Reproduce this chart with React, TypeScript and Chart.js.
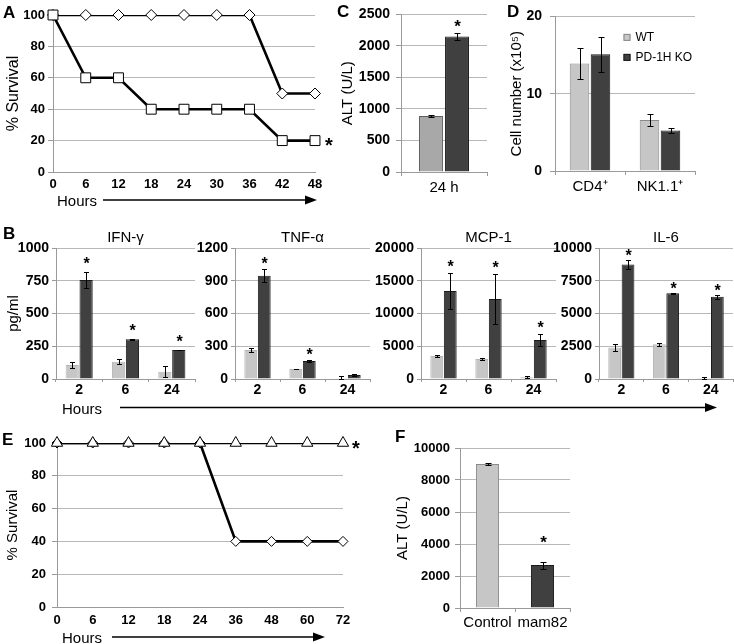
import React, { useEffect, useRef } from "react";
import { Chart, registerables } from "chart.js";
Chart.register(...registerables);

const FONT = "'Liberation Sans', Arial, Helvetica, sans-serif";
const GRID = "#b8b8b8";
const AXIS = "#9a9a9a";
const DARK = "#404040";
const DARK_EDGE = "#1a1a1a";
const LIGHT = "#c6c6c6";
const LIGHT_EDGE = "#8a8a8a";

// ---------- Panel A: survival ----------
const hoursA = [0, 6, 12, 18, 24, 30, 36, 42, 48];
const survivalA_square = [100, 60, 60, 40, 40, 40, 40, 20, 20];
const survivalA_diamond = [100, 100, 100, 100, 100, 100, 100, 50, 50];

// ---------- Panel C: ALT ----------
const cCategories = ["24 h"];
const cWT = [890];
const cWTErr = [15];
const cKO = [2150];
const cKOErr = [50];

// ---------- Panel D: cell numbers ----------
const dCategories = ["CD4⁺", "NK1.1⁺"];
const dWT = [13.9, 6.6];
const dWTErr = [1.95, 0.75];
const dKO = [15.1, 5.25];
const dKOErr = [2.25, 0.3];

// ---------- Panel B: cytokines ----------
const bHours = ["2", "6", "24"];
const ifnWT = [107, 132, 56];
const ifnWTErr = [25, 20, 43];
const ifnKO = [756, 303, 221];
const ifnKOErr = [58, 5, 3];
const tnfWT = [265, 92, 8];
const tnfWTErr = [22, 3, 15];
const tnfKO = [946, 165, 37];
const tnfKOErr = [60, 10, 5];
const mcpWT = [3500, 3050, 250];
const mcpWTErr = [150, 100, 150];
const mcpKO = [13450, 12200, 5950];
const mcpKOErr = [2700, 3850, 950];
const il6WT = [2400, 2650, 80];
const il6WTErr = [300, 100, 50];
const il6KO = [8750, 6550, 6280];
const il6KOErr = [350, 30, 150];

// ---------- Panel E: survival ----------
const hoursE = ["0", "6", "12", "18", "24", "36", "48", "60", "72"];
const survivalE_triangle = [100, 100, 100, 100, 100, 100, 100, 100, 100];
const survivalE_diamond = [100, 100, 100, 100, 100, 40, 40, 40, 40];

// ---------- Panel F: ALT ----------
const fCategories = ["Control", "mam82"];
const fValues = [9000, 2680];
const fErr = [50, 220];

type Box = { left: number; top: number; width: number; height: number };

interface Extra {
  errors?: (number[] | null)[];
  stars?: (boolean[] | null)[];
  starOffset?: number;
  starSize?: number;
  cap?: number;
  title?: string;
  titleGap?: number;
  titleSize?: number;
  lineStar?: { dataset: number; dx: number; size: number };
  legend?: { dx: number; dy: number; gap: number; size: number; font: number; datasets: number[] };
}

function figPlugin(ex: Extra) {
  return {
    id: "fig",
    afterDatasetsDraw(chart: any) {
      const ctx = chart.ctx;
      const ca = chart.chartArea;
      ctx.save();
      const cap = ex.cap ?? 3;
      (ex.errors || []).forEach((errs, di) => {
        if (!errs) return;
        const meta = chart.getDatasetMeta(di);
        const ys = chart.scales[meta.yAxisID];
        const ds = chart.data.datasets[di];
        meta.data.forEach((el: any, i: number) => {
          const v = ds.data[i] as number;
          const e = errs[i];
          const x = Math.round(el.x) + 0.5;
          const yt = Math.round(ys.getPixelForValue(v + e)) + 0.5;
          const yb = Math.round(ys.getPixelForValue(Math.max(0, v - e))) + 0.5;
          ctx.strokeStyle = "#000";
          ctx.lineWidth = 1;
          ctx.beginPath();
          ctx.moveTo(x, yt);
          ctx.lineTo(x, yb);
          ctx.moveTo(x - cap, yt);
          ctx.lineTo(x + cap, yt);
          ctx.moveTo(x - cap, yb);
          ctx.lineTo(x + cap, yb);
          ctx.stroke();
          const st = ex.stars && ex.stars[di];
          if (st && st[i]) {
            const size = ex.starSize ?? 16;
            ctx.fillStyle = "#000";
            ctx.font = `bold ${size}px ${FONT}`;
            ctx.textAlign = "center";
            ctx.textBaseline = "alphabetic";
            const cy = yt - (ex.starOffset ?? 10);
            ctx.fillText("*", x, cy + 0.58 * size);
          }
        });
      });
      if (ex.lineStar) {
        const meta = chart.getDatasetMeta(ex.lineStar.dataset);
        const el = meta.data[meta.data.length - 1];
        const size = ex.lineStar.size;
        ctx.fillStyle = "#000";
        ctx.font = `bold ${size}px ${FONT}`;
        ctx.textAlign = "center";
        ctx.textBaseline = "alphabetic";
        ctx.fillText("*", el.x + ex.lineStar.dx, el.y + 0.58 * size);
      }
      if (ex.title) {
        const size = ex.titleSize ?? 15;
        ctx.fillStyle = "#000";
        ctx.font = `${size}px ${FONT}`;
        ctx.textAlign = "center";
        ctx.textBaseline = "middle";
        ctx.fillText(ex.title, (ca.left + ca.right) / 2, ca.top - (ex.titleGap ?? 10));
      }
      if (ex.legend) {
        const lg = ex.legend;
        lg.datasets.forEach((di, k) => {
          const ds = chart.data.datasets[di];
          const cx = ca.left + lg.dx;
          const cy = ca.top + lg.dy + k * lg.gap;
          ctx.fillStyle = ds.backgroundColor;
          ctx.fillRect(cx - lg.size / 2, cy - lg.size / 2, lg.size, lg.size);
          ctx.strokeStyle = ds.borderColor;
          ctx.lineWidth = 1;
          ctx.strokeRect(cx - lg.size / 2 + 0.5, cy - lg.size / 2 + 0.5, lg.size - 1, lg.size - 1);
          ctx.fillStyle = "#000";
          ctx.font = `${lg.font}px ${FONT}`;
          ctx.textAlign = "left";
          ctx.textBaseline = "middle";
          ctx.fillText(ds.label, cx + lg.size / 2 + 5, cy + 0.5);
        });
      }
      ctx.restore();
    },
  };
}

interface AxisOpts {
  yMax: number;
  yStep: number;
  yTickSize: number;
  yTickPad: number;
  yTickLen: number;
  yWidth: number;
  xHeight: number;
  padTop: number;
  padRight: number;
  yTitle?: string;
  yTitleSize?: number;
  yTitlePad?: number;
}

function yScale(o: AxisOpts) {
  return {
    min: 0,
    max: o.yMax,
    ticks: {
      stepSize: o.yStep,
      color: "#000",
      padding: o.yTickPad,
      font: { family: FONT, size: o.yTickSize, weight: "bold" },
      callback: (v: any) => String(v),
    },
    grid: { color: GRID, tickColor: AXIS, drawTicks: true, tickLength: o.yTickLen, lineWidth: 1 },
    border: { display: true, color: AXIS, width: 1 },
    title: o.yTitle
      ? {
          display: true,
          text: o.yTitle,
          color: "#000",
          font: { family: FONT, size: o.yTitleSize ?? 15 },
          padding: { top: o.yTitlePad ?? 4, bottom: 0 },
        }
      : { display: false },
    afterFit: (s: any) => {
      s.width = o.yWidth;
    },
  };
}

function baseOptions(o: AxisOpts) {
  return {
    responsive: false,
    animation: false,
    devicePixelRatio: 1,
    events: [],
    layout: { padding: { top: o.padTop, right: o.padRight, left: 0, bottom: 0 } },
    plugins: { legend: { display: false }, tooltip: { enabled: false }, title: { display: false } },
  };
}

function barChart(
  o: AxisOpts & {
    labels: string[];
    datasets: any[];
    cp: number;
    bp: number;
    xFontSize: number;
    xBold: boolean;
    xPad: number;
    xTickLen: number;
    extra: Extra;
  }
) {
  return {
    type: "bar",
    data: {
      labels: o.labels,
      datasets: o.datasets.map((d) => ({ ...d, categoryPercentage: o.cp, barPercentage: o.bp, borderSkipped: "start" })),
    },
    options: {
      ...baseOptions(o),
      scales: {
        x: {
          ticks: {
            color: "#000",
            padding: o.xPad,
            maxRotation: 0,
            autoSkip: false,
            font: { family: FONT, size: o.xFontSize, weight: o.xBold ? "bold" : "normal" },
          },
          grid: { drawOnChartArea: false, drawTicks: true, tickLength: o.xTickLen, color: AXIS, offset: true },
          border: { display: true, color: AXIS, width: 1 },
          afterFit: (s: any) => {
            s.height = o.xHeight;
          },
        },
        y: yScale(o),
      },
    },
    plugins: [figPlugin(o.extra)],
  };
}

const pts = (xs: number[], ys: number[]) => xs.map((x, i) => ({ x, y: ys[i] }));

function markerDs(data: any, style: string, r: number) {
  return {
    data,
    showLine: false,
    pointStyle: style,
    pointRadius: r,
    pointBackgroundColor: "#fff",
    pointBorderColor: "#000",
    pointBorderWidth: 1,
    clip: false,
  };
}
function lineDs(data: any) {
  return {
    data,
    borderColor: "#000",
    borderWidth: 2.6,
    pointRadius: 0,
    tension: 0,
    clip: 0,
  };
}

function lineXTicks(size: number, pad: number) {
  return {
    color: "#000",
    padding: pad,
    maxRotation: 0,
    autoSkip: false,
    font: { family: FONT, size, weight: "bold" },
  };
}

// ---------- chart factories ----------
const makeA = () => {
  const o: AxisOpts = {
    yMax: 100, yStep: 20, yTickSize: 13, yTickPad: 3, yTickLen: 5,
    yWidth: 53, xHeight: 28, padTop: 15, padRight: 30,
    yTitle: "% Survival", yTitleSize: 16, yTitlePad: 4,
  };
  return {
    type: "line",
    data: {
      datasets: [
        markerDs(pts(hoursA, survivalA_square), "rect", 7),
        markerDs(pts(hoursA, survivalA_diamond), "rectRot", 5.5),
        lineDs(pts(hoursA, survivalA_square)),
        lineDs(pts(hoursA, survivalA_diamond)),
      ],
    },
    options: {
      ...baseOptions(o),
      scales: {
        x: {
          type: "linear",
          min: 0,
          max: 48,
          ticks: { ...lineXTicks(13, 5), stepSize: 6 },
          grid: { display: false, drawTicks: false, tickLength: 0 },
          border: { display: true, color: AXIS },
          afterFit: (s: any) => { s.height = o.xHeight; },
        },
        y: yScale(o),
      },
    },
    plugins: [figPlugin({ lineStar: { dataset: 0, dx: 14, size: 20 } })],
  };
};

const makeE = () => {
  const o: AxisOpts = {
    yMax: 100, yStep: 20, yTickSize: 13, yTickPad: 6, yTickLen: 5,
    yWidth: 57, xHeight: 25, padTop: 23, padRight: 32,
    yTitle: "% Survival", yTitleSize: 15, yTitlePad: 4,
  };
  return {
    type: "line",
    data: {
      labels: hoursE,
      datasets: [
        markerDs(survivalE_triangle, "triangle", 6.5),
        markerDs(survivalE_diamond, "rectRot", 5),
        lineDs(survivalE_triangle),
        lineDs(survivalE_diamond),
      ],
    },
    options: {
      ...baseOptions(o),
      scales: {
        x: {
          type: "category",
          offset: false,
          ticks: lineXTicks(13, 6),
          grid: { display: false, drawTicks: false, tickLength: 0 },
          border: { display: true, color: AXIS },
          afterFit: (s: any) => { s.height = o.xHeight; },
        },
        y: yScale(o),
      },
    },
    plugins: [figPlugin({ lineStar: { dataset: 0, dx: 13, size: 20 } })],
  };
};

const lightDs = (label: string, data: number[], bg = LIGHT, edge = LIGHT_EDGE, bw = 1) => ({
  label, data, backgroundColor: bg, borderColor: edge, borderWidth: bw,
});
const darkDs = (label: string, data: number[]) => ({
  label, data, backgroundColor: DARK, borderColor: DARK_EDGE, borderWidth: 1,
});

const makeC = () =>
  barChart({
    labels: cCategories,
    datasets: [lightDs("WT", cWT, "#a8a8a8", "#5e5e5e"), darkDs("PD-1H KO", cKO)],
    cp: 0.605, bp: 0.92,
    yMax: 2500, yStep: 500, yTickSize: 14, yTickPad: 6, yTickLen: 5,
    yWidth: 71, xHeight: 28, padTop: 12, padRight: 3,
    yTitle: "ALT (U/L)", yTitleSize: 15, yTitlePad: 9,
    xFontSize: 15, xBold: false, xPad: 3, xTickLen: 4,
    extra: { errors: [cWTErr, cKOErr], stars: [null, [true]], starOffset: 11, starSize: 17, cap: 3 },
  });

const makeD = () =>
  barChart({
    labels: dCategories,
    datasets: [lightDs("WT", dWT), darkDs("PD-1H KO", dKO)],
    cp: 0.6, bp: 0.93,
    yMax: 20, yStep: 10, yTickSize: 14, yTickPad: 8, yTickLen: 5,
    yWidth: 60, xHeight: 29, padTop: 11, padRight: 39,
    yTitle: "Cell number (x10⁵)", yTitleSize: 15, yTitlePad: 13,
    xFontSize: 15, xBold: false, xPad: 3, xTickLen: 4,
    extra: {
      errors: [dWTErr, dKOErr], cap: 3,
      legend: { dx: 72, dy: 21, gap: 20, size: 7, font: 12, datasets: [0, 1] },
    },
  });

const makeB = (
  title: string, wt: number[], wtErr: number[], ko: number[], koErr: number[], stars: boolean[],
  yMax: number, yStep: number, yWidth: number, padRight: number, starOffset: number, yTitle?: string
) => () =>
  barChart({
    labels: bHours,
    datasets: [lightDs("WT", wt, LIGHT, "#b5b5b5"), darkDs("PD-1H KO", ko)],
    cp: 0.6, bp: 0.95,
    yMax, yStep, yTickSize: 14, yTickPad: 3, yTickLen: 4,
    yWidth, xHeight: 21, padTop: 23, padRight,
    yTitle, yTitleSize: 15, yTitlePad: 5,
    xFontSize: 14, xBold: true, xPad: 0, xTickLen: 3,
    extra: { errors: [wtErr, koErr], stars: [null, stars], starOffset, starSize: 16, cap: 2.5, title, titleGap: 10, titleSize: 15 },
  });

const makeIFN = makeB("IFN-γ", ifnWT, ifnWTErr, ifnKO, ifnKOErr, [true, true, true], 1000, 250, 56, 5, 13, "pg/ml");
const makeTNF = makeB("TNF-α", tnfWT, tnfWTErr, tnfKO, tnfKOErr, [true, true, false], 1200, 300, 45, 5, 10);
const makeMCP = makeB("MCP-1", mcpWT, mcpWTErr, mcpKO, mcpKOErr, [true, true, true], 20000, 5000, 49, 4, 11);
const makeIL6 = makeB("IL-6", il6WT, il6WTErr, il6KO, il6KOErr, [true, true, true], 10000, 2500, 47, 1, 9);

const makeF = () =>
  barChart({
    labels: fCategories,
    datasets: [
      {
        label: "ALT",
        data: fValues,
        backgroundColor: [LIGHT, DARK],
        borderColor: [LIGHT_EDGE, DARK_EDGE],
        borderWidth: 1,
      },
    ],
    cp: 1, bp: 0.42,
    yMax: 10000, yStep: 2000, yTickSize: 13, yTickPad: 5, yTickLen: 5,
    yWidth: 70, xHeight: 32, padTop: 23, padRight: 20,
    yTitle: "ALT (U/L)", yTitleSize: 15, yTitlePad: 4,
    xFontSize: 15, xBold: false, xPad: 2, xTickLen: 4,
    extra: { errors: [fErr], stars: [[false, true]], starOffset: 24, starSize: 17, cap: 3 },
  });

function ChartCanvas({ box, make }: { box: Box; make: () => any }) {
  const ref = useRef<HTMLCanvasElement>(null);
  useEffect(() => {
    const chart = new Chart(ref.current as HTMLCanvasElement, make());
    return () => chart.destroy();
  }, []);
  return (
    <canvas
      ref={ref}
      width={box.width}
      height={box.height}
      style={{ position: "absolute", left: box.left, top: box.top, width: box.width, height: box.height }}
    />
  );
}

function Label({ text, x, cy, size, bold }: { text: string; x: number; cy: number; size: number; bold?: boolean }) {
  return (
    <div
      style={{
        position: "absolute",
        left: x,
        top: cy - 0.49 * size,
        fontFamily: FONT,
        fontSize: size,
        lineHeight: 1,
        fontWeight: bold ? "bold" : "normal",
        color: "#000",
        whiteSpace: "nowrap",
      }}
    >
      {text}
    </div>
  );
}

const arrows = [
  { x1: 103, x2: 317, y: 200 },
  { x1: 120, x2: 717, y: 407.5 },
  { x1: 112, x2: 325, y: 637 },
];

export default function App() {
  return (
    <div style={{ position: "absolute", left: 0, top: 0, width: 734, height: 644, background: "#fff", overflow: "hidden" }}>
      <ChartCanvas box={{ left: 0, top: 0, width: 345, height: 200 }} make={makeA} />
      <ChartCanvas box={{ left: 330, top: 0, width: 160, height: 200 }} make={makeC} />
      <ChartCanvas box={{ left: 495, top: 0, width: 239, height: 200 }} make={makeD} />
      <ChartCanvas box={{ left: 0, top: 225, width: 200, height: 175 }} make={makeIFN} />
      <ChartCanvas box={{ left: 190, top: 225, width: 185, height: 175 }} make={makeTNF} />
      <ChartCanvas box={{ left: 372, top: 225, width: 188, height: 175 }} make={makeMCP} />
      <ChartCanvas box={{ left: 552, top: 225, width: 182, height: 175 }} make={makeIL6} />
      <ChartCanvas box={{ left: 0, top: 420, width: 375, height: 212 }} make={makeE} />
      <ChartCanvas box={{ left: 390, top: 425, width: 200, height: 215 }} make={makeF} />

      <Label text="A" x={3} cy={12.5} size={17} bold />
      <Label text="B" x={3} cy={233} size={17} bold />
      <Label text="C" x={337} cy={11.5} size={17} bold />
      <Label text="D" x={507} cy={11.5} size={17} bold />
      <Label text="E" x={2} cy={439} size={17} bold />
      <Label text="F" x={395} cy={436} size={17} bold />

      <Label text="Hours" x={57} cy={200} size={15} />
      <Label text="Hours" x={62} cy={408} size={15} />
      <Label text="Hours" x={62} cy={637} size={15} />

      <svg width={734} height={644} style={{ position: "absolute", left: 0, top: 0 }}>
        {arrows.map((a, i) => (
          <g key={i}>
            <line x1={a.x1} y1={a.y} x2={a.x2 - 10} y2={a.y} stroke="#000" strokeWidth={1.6} />
            <polygon points={`${a.x2},${a.y} ${a.x2 - 12},${a.y - 4.5} ${a.x2 - 12},${a.y + 4.5}`} fill="#000" />
          </g>
        ))}
      </svg>
    </div>
  );
}
